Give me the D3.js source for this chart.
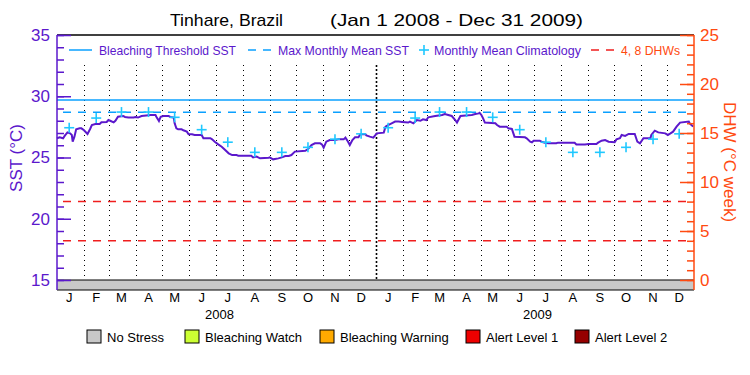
<!DOCTYPE html>
<html>
<head>
<meta charset="utf-8">
<script src="https://cdn.jsdelivr.net/npm/d3@7"></script>
<style>
  body { margin: 0; background: #fff; }
  svg { display: block; }
  text { font-family: "Liberation Sans", Arial, sans-serif; }
</style>
</head>
<body>
<div id="chart"></div>
<script>
  // ---- data ----
  const titleSite = 'Tinhare, Brazil';
  const titleRange = '(Jan 1 2008 - Dec 31 2009)';
  const monthLabels = ['J', 'F', 'M', 'A', 'M', 'J', 'J', 'A', 'S', 'O', 'N', 'D'];
  const yearLabels = [2008, 2009];
  const sstTicks = [15, 20, 25, 30, 35];
  const dhwTicks = [0, 5, 10, 15, 20, 25];

  const bleachingThreshold = 29.7;
  const maxMonthlyMean = 28.7;
  const dhwLevels = [4, 8];

  // monthly mean climatology (Jan..Dec), plotted on the 15th of every month
  const climatology = [27.43, 28.22, 28.71, 28.71, 28.28, 27.27, 26.25, 25.42, 25.42, 25.83, 26.5, 26.93];

  // SST readings: [day since Jan 1 2008, degC]
  const sstReadings = [
    [0, 26.57], [3, 26.65], [7, 26.57], [9, 26.78], [12, 27.05], [15, 26.97], [17, 26.84], [18, 26.29],
    [20, 26.7], [22, 27.3], [26, 27.38], [28, 27.38], [31, 27.22], [35, 26.92], [38, 27.33], [40, 27.65],
    [44, 27.73], [49, 27.73], [51, 27.87], [57, 27.9], [59, 28.06], [61, 28.0], [65, 27.87], [67, 28.0],
    [70, 28.33], [76, 28.39], [78, 28.31], [82, 28.26], [88, 28.26], [90, 28.31], [93, 28.26], [97, 28.39],
    [105, 28.44], [107, 28.47], [113, 28.47], [114, 28.33], [117, 27.98], [119, 28.33], [122, 28.39], [128, 28.39],
    [130, 28.31], [134, 28.26], [135, 27.79], [137, 27.38], [139, 27.3], [143, 27.3], [145, 27.22], [149, 27.11],
    [151, 26.89], [155, 26.89], [158, 26.84], [166, 26.84], [168, 26.57], [176, 26.57], [178, 26.48], [181, 26.29],
    [185, 26.07], [189, 25.88], [193, 25.61], [197, 25.34], [201, 25.2], [206, 25.2], [208, 25.15], [223, 25.15],
    [225, 25.01], [229, 25.07], [233, 24.93], [243, 24.98], [244, 25.01], [248, 24.85], [254, 24.93], [258, 25.01],
    [262, 25.12], [266, 25.12], [269, 25.2], [273, 25.48], [285, 25.55], [288, 25.69], [292, 26.02], [296, 26.16],
    [302, 26.16], [304, 26.07], [306, 25.8], [309, 26.29], [313, 26.43], [319, 26.43], [323, 26.48], [329, 26.48],
    [331, 26.62], [334, 26.29], [336, 26.02], [339, 26.43], [342, 26.65], [346, 26.65], [348, 26.89], [354, 26.89],
    [355, 26.81], [359, 26.7], [363, 26.62], [367, 26.97], [375, 27.03], [377, 27.52], [380, 27.65], [384, 27.79],
    [388, 27.93], [392, 27.93], [396, 27.9], [403, 27.85], [405, 27.93], [409, 27.79], [413, 28.06], [417, 28.0],
    [420, 28.12], [424, 28.06], [426, 28.28], [434, 28.39], [442, 28.47], [445, 28.55], [449, 28.47], [453, 28.39],
    [457, 28.06], [459, 27.85], [463, 28.39], [472, 28.44], [476, 28.47], [480, 28.55], [484, 28.6], [485, 28.65],
    [487, 28.47], [489, 28.2], [491, 27.85], [503, 27.79], [505, 27.65], [508, 27.52], [516, 27.52], [518, 27.38],
    [522, 27.33], [525, 26.7], [537, 26.65], [539, 26.57], [543, 26.29], [545, 26.24], [547, 26.37], [554, 26.37],
    [556, 26.29], [560, 26.21], [564, 26.16], [573, 26.16], [575, 26.21], [594, 26.21], [596, 26.07], [606, 26.07],
    [610, 26.1], [619, 26.1], [621, 26.21], [625, 26.37], [629, 26.43], [633, 26.29], [640, 26.24], [642, 26.48],
    [646, 26.57], [648, 26.84], [652, 26.76], [656, 26.92], [663, 26.92], [666, 26.29], [669, 26.16], [673, 26.57],
    [681, 26.57], [682, 26.84], [686, 27.19], [690, 27.05], [698, 26.97], [701, 26.84], [704, 26.97], [707, 27.11],
    [711, 27.52], [715, 27.85], [725, 27.93], [726, 27.79], [730, 27.52]
  ];

  const stressLabels = ['No Stress', 'Bleaching Watch', 'Bleaching Warning', 'Alert Level 1', 'Alert Level 2'];
  const stressColors = ['#c8c8c8', '#ccff33', '#ffaa00', '#ee0000', '#960000'];

  // ---- styling ----
  const W = 750, H = 375;
  const PURPLE = '#5b18cc';
  const ORANGE = '#ff4a10';
  const BLUE = '#0aa0ff';
  const CYAN = '#20c8ff';
  const RED = '#f01e1e';
  const margin = { left: 57, right: 694, top: 35, bottom: 280, band: 290 };

  const start = new Date(Date.UTC(2008, 0, 1));
  const end = new Date(Date.UTC(2010, 0, 1));

  const x = d3.scaleUtc().domain([start, end]).range([margin.left, margin.right]);
  const ySst = d3.scaleLinear().domain([15, 35]).range([margin.bottom, margin.top]);
  const yDhw = d3.scaleLinear().domain([0, 25]).range([margin.bottom, margin.top]);

  const svg = d3.select('#chart').append('svg')
    .attr('width', W)
    .attr('height', H);

  // title
  svg.append('text')
    .attr('x', 170).attr('y', 26)
    .attr('font-size', 17)
    .attr('textLength', 113).attr('lengthAdjust', 'spacingAndGlyphs')
    .text(titleSite);
  svg.append('text')
    .attr('x', 330).attr('y', 26)
    .attr('font-size', 17)
    .attr('textLength', 253).attr('lengthAdjust', 'spacingAndGlyphs')
    .text(titleRange);

  // stress band at the bottom
  svg.append('rect')
    .attr('x', margin.left).attr('y', margin.bottom)
    .attr('width', margin.right - margin.left)
    .attr('height', margin.band - margin.bottom)
    .attr('fill', stressColors[0]);

  // month boundaries
  const months = d3.utcMonth.range(d3.utcMonth.offset(start, 1), end);
  svg.append('g').selectAll('line')
    .data(months)
    .enter().append('line')
    .attr('x1', d => Math.round(x(d)) + 0.5).attr('x2', d => Math.round(x(d)) + 0.5)
    .attr('y1', 65).attr('y2', margin.bottom)
    .attr('stroke', '#000')
    .attr('stroke-width', d => d.getUTCMonth() === 0 ? 1.6 : 1)
    .attr('stroke-dasharray', d => d.getUTCMonth() === 0 ? '2,2' : '1,4');

  // month + year labels
  const monthMid = d3.utcMonth.range(start, end).map(d => d3.utcDay.offset(d, 14));
  svg.append('g').selectAll('text')
    .data(monthMid)
    .enter().append('text')
    .attr('x', d => x(d)).attr('y', 302)
    .attr('text-anchor', 'middle')
    .attr('font-size', 13)
    .text(d => monthLabels[d.getUTCMonth()]);
  svg.append('g').selectAll('text')
    .data(yearLabels)
    .enter().append('text')
    .attr('x', d => x(new Date(Date.UTC(d, 6, 2))) + 3).attr('y', 319)
    .attr('text-anchor', 'middle')
    .attr('font-size', 13)
    .text(d => d);

  // reference levels
  svg.append('line')
    .attr('x1', margin.left).attr('x2', margin.right)
    .attr('y1', ySst(bleachingThreshold)).attr('y2', ySst(bleachingThreshold))
    .attr('stroke', BLUE).attr('stroke-width', 1.5);
  svg.append('line')
    .attr('x1', margin.left + 6).attr('x2', margin.right)
    .attr('y1', ySst(maxMonthlyMean)).attr('y2', ySst(maxMonthlyMean))
    .attr('stroke', BLUE).attr('stroke-width', 1.5)
    .attr('stroke-dasharray', '8,7');
  svg.append('g').selectAll('line')
    .data(dhwLevels)
    .enter().append('line')
    .attr('x1', margin.left + 6).attr('x2', margin.right)
    .attr('y1', d => yDhw(d)).attr('y2', d => yDhw(d))
    .attr('stroke', RED).attr('stroke-width', 1.5)
    .attr('stroke-dasharray', '8,7');

  // SST line
  const line = d3.line()
    .x(d => x(d3.utcDay.offset(start, d[0])))
    .y(d => ySst(d[1]));
  svg.append('path')
    .datum(sstReadings)
    .attr('d', line)
    .attr('fill', 'none')
    .attr('stroke', PURPLE)
    .attr('stroke-width', 2);

  // climatology crosses
  const climPoints = [];
  yearLabels.forEach(function (yr) {
    climatology.forEach(function (v, m) {
      climPoints.push({ date: new Date(Date.UTC(yr, m, 15)), value: v });
    });
  });
  const cross = svg.append('g').selectAll('g')
    .data(climPoints)
    .enter().append('g')
    .attr('transform', d => 'translate(' + x(d.date) + ',' + ySst(d.value) + ')');
  cross.append('line').attr('x1', -5).attr('x2', 5).attr('y1', 0).attr('y2', 0);
  cross.append('line').attr('x1', 0).attr('x2', 0).attr('y1', -5).attr('y2', 5);
  cross.selectAll('line').attr('stroke', CYAN).attr('stroke-width', 1.6);

  // frame
  svg.append('line')
    .attr('x1', margin.left).attr('x2', margin.right)
    .attr('y1', margin.top).attr('y2', margin.top)
    .attr('stroke', '#000').attr('stroke-width', 1.5);
  svg.append('line')
    .attr('x1', margin.left).attr('x2', margin.right)
    .attr('y1', margin.bottom).attr('y2', margin.bottom)
    .attr('stroke', '#000').attr('stroke-width', 1.2);
  svg.append('line')
    .attr('x1', margin.left).attr('x2', margin.right)
    .attr('y1', margin.band).attr('y2', margin.band)
    .attr('stroke', '#000').attr('stroke-width', 1.2);

  // left axis (SST)
  const leftMinor = d3.axisLeft(ySst).tickValues(d3.range(15, 36, 1)).tickSize(-7).tickFormat('');
  const leftMajor = d3.axisLeft(ySst).tickValues(sstTicks).tickSize(-14).tickPadding(7);
  const gl = svg.append('g').attr('transform', 'translate(' + margin.left + ',0)');
  gl.append('g').call(leftMinor);
  gl.append('g').call(leftMajor);
  gl.selectAll('.domain').remove();
  gl.selectAll('line').attr('stroke', PURPLE).attr('stroke-width', 1.5);
  gl.selectAll('text').attr('fill', PURPLE).attr('font-size', 17)
    .attr('font-family', '"Liberation Sans", Arial, sans-serif');
  gl.append('line').attr('y1', margin.top).attr('y2', margin.band)
    .attr('stroke', PURPLE).attr('stroke-width', 1.5);

  // right axis (DHW)
  const rightMinor = d3.axisRight(yDhw).tickValues(d3.range(0, 26, 1)).tickSize(-7).tickFormat('');
  const rightMajor = d3.axisRight(yDhw).tickValues(dhwTicks).tickSize(-14).tickPadding(6);
  const gr = svg.append('g').attr('transform', 'translate(' + margin.right + ',0)');
  gr.append('g').call(rightMinor);
  gr.append('g').call(rightMajor);
  gr.selectAll('.domain').remove();
  gr.selectAll('line').attr('stroke', ORANGE).attr('stroke-width', 1.5);
  gr.selectAll('text').attr('fill', ORANGE).attr('font-size', 17)
    .attr('font-family', '"Liberation Sans", Arial, sans-serif');
  gr.append('line').attr('y1', margin.top).attr('y2', margin.band)
    .attr('stroke', ORANGE).attr('stroke-width', 1.5);

  // axis titles
  svg.append('text')
    .attr('transform', 'translate(22,158) rotate(-90)')
    .attr('text-anchor', 'middle')
    .attr('font-size', 17)
    .attr('fill', PURPLE)
    .text('SST (°C)');
  svg.append('text')
    .attr('transform', 'translate(724,162) rotate(90)')
    .attr('text-anchor', 'middle')
    .attr('font-size', 17)
    .attr('fill', ORANGE)
    .text('DHW (°C week)');

  // top legend
  const ly = 50;
  svg.append('line').attr('x1', 69).attr('x2', 92).attr('y1', ly).attr('y2', ly)
    .attr('stroke', BLUE).attr('stroke-width', 1.5);
  svg.append('line').attr('x1', 248).attr('x2', 272).attr('y1', ly).attr('y2', ly)
    .attr('stroke', BLUE).attr('stroke-width', 1.5).attr('stroke-dasharray', '8,7');
  svg.append('line').attr('x1', 419).attr('x2', 429).attr('y1', ly).attr('y2', ly)
    .attr('stroke', CYAN).attr('stroke-width', 1.6);
  svg.append('line').attr('x1', 424).attr('x2', 424).attr('y1', ly - 5).attr('y2', ly + 5)
    .attr('stroke', CYAN).attr('stroke-width', 1.6);
  svg.append('line').attr('x1', 591).attr('x2', 615).attr('y1', ly).attr('y2', ly)
    .attr('stroke', RED).attr('stroke-width', 1.5).attr('stroke-dasharray', '8,7');
  const legendTop = [
    { text: 'Bleaching Threshold SST', x: 99, w: 137, color: PURPLE },
    { text: 'Max Monthly Mean SST', x: 278, w: 131, color: PURPLE },
    { text: 'Monthly Mean Climatology', x: 434, w: 147, color: PURPLE },
    { text: '4, 8 DHWs', x: 621, w: 59, color: ORANGE }
  ];
  svg.append('g').selectAll('text')
    .data(legendTop)
    .enter().append('text')
    .attr('x', d => d.x).attr('y', ly + 5)
    .attr('font-size', 13)
    .attr('fill', d => d.color)
    .attr('textLength', d => d.w).attr('lengthAdjust', 'spacingAndGlyphs')
    .text(d => d.text);

  // bottom legend
  const boxX = [87, 185, 320, 466, 575];
  const lg = svg.append('g').selectAll('g')
    .data(stressLabels)
    .enter().append('g');
  lg.append('rect')
    .attr('x', (d, i) => boxX[i]).attr('y', 330)
    .attr('width', 14).attr('height', 13)
    .attr('fill', (d, i) => stressColors[i])
    .attr('stroke', '#000').attr('stroke-width', 1);
  lg.append('text')
    .attr('x', (d, i) => boxX[i] + 20).attr('y', 342)
    .attr('font-size', 13)
    .text(d => d);
</script>
</body>
</html>
